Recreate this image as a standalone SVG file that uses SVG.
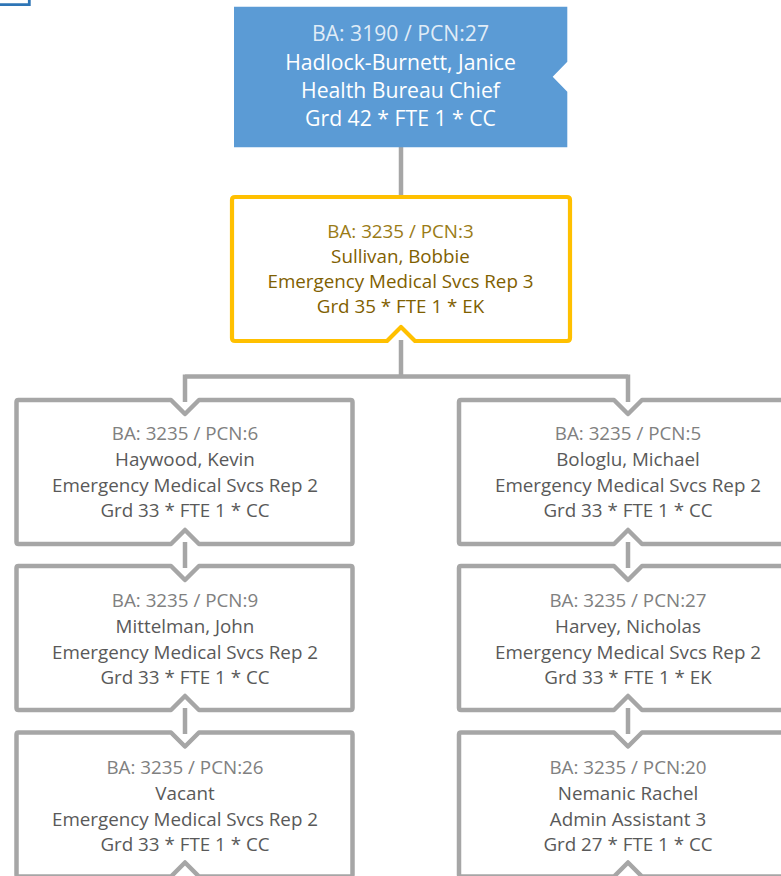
<svg xmlns="http://www.w3.org/2000/svg" width="781" height="876" viewBox="0 0 781 876">
<style>
.t{font-family:"Open Sans","Noto Sans","Liberation Sans",sans-serif;text-anchor:middle}
.g{font-size:18.8px}
.b{font-size:21.2px;fill:#fff}
.b1{fill:#fff;fill-opacity:.82}
.gy1{fill:#808080}
.gy{fill:#595959}
.y1{fill:#9A7B16}
.y{fill:#7F6000}
.box{fill:#fff;stroke:#A6A6A6;stroke-width:4.5;stroke-linejoin:round}
.con{fill:none;stroke:#A6A6A6;stroke-width:4.5}
</style>
<rect width="781" height="876" fill="#fff"/>
<path d="M0,4.7 H29.3 V0" fill="none" stroke="#2E75B6" stroke-width="2.8"/>
<g id="connectors">
<path class="con" d="M401,147 V197"/>
<path class="con" d="M401,340 V376.5 M185,376.5 H628 M185,374.5 V402 M628,374.5 V402"/>
<path class="con" d="M185,542 V568 M185,708 V734 M628,542 V568 M628,708 V734"/>
</g>
<g id="n-hadlock">
<path d="M234,6.7 H567.3 V61.7 L552.7,76.7 L567.3,91.7 V147.3 H234 Z" fill="#5B9BD5"/>
<text class="t b b1" x="400.5" y="41">BA: 3190 / PCN:27</text>
<text class="t b" x="400.5" y="70">Hadlock-Burnett, Janice</text>
<text class="t b" x="400.5" y="98">Health Bureau Chief</text>
<text class="t b" x="400.5" y="126">Grd 42 * FTE 1 * CC</text>
</g>
<g id="n-sullivan">
<path d="M235,197 H567 Q570,197 570,200 V338 Q570,341 567,341 H415 L401,327 L387,341 H235 Q232,341 232,338 V200 Q232,197 235,197 Z" fill="#fff" stroke="#FFC000" stroke-width="4.2" stroke-linejoin="round"/>
<text class="t g y1" x="400.5" y="238">BA: 3235 / PCN:3</text>
<text class="t g y" x="400.5" y="263">Sullivan, Bobbie</text>
<text class="t g y" x="400.5" y="288">Emergency Medical Svcs Rep 3</text>
<text class="t g y" x="400.5" y="313">Grd 35 * FTE 1 * EK</text>
</g>
<g id="n-haywood">
<path class="box" d="M18.5,400 H171 L185,414 L199,400 H350.5 Q352.5,400 352.5,402 V542 Q352.5,544 350.5,544 H199 L185,530 L171,544 H18.5 Q16.5,544 16.5,542 V402 Q16.5,400 18.5,400 Z"/>
<text class="t g gy1" x="185" y="440">BA: 3235 / PCN:6</text>
<text class="t g gy" x="185" y="466">Haywood, Kevin</text>
<text class="t g gy" x="185" y="492">Emergency Medical Svcs Rep 2</text>
<text class="t g gy" x="185" y="517">Grd 33 * FTE 1 * CC</text>
</g>
<g id="n-mittelman">
<path class="box" d="M18.5,566 H171 L185,580 L199,566 H350.5 Q352.5,566 352.5,568 V708 Q352.5,710 350.5,710 H199 L185,696 L171,710 H18.5 Q16.5,710 16.5,708 V568 Q16.5,566 18.5,566 Z"/>
<text class="t g gy1" x="185" y="607">BA: 3235 / PCN:9</text>
<text class="t g gy" x="185" y="633">Mittelman, John</text>
<text class="t g gy" x="185" y="659">Emergency Medical Svcs Rep 2</text>
<text class="t g gy" x="185" y="684">Grd 33 * FTE 1 * CC</text>
</g>
<g id="n-vacant">
<path class="box" d="M18.5,732.5 H171 L185,746.5 L199,732.5 H350.5 Q352.5,732.5 352.5,734.5 V874.5 Q352.5,876.5 350.5,876.5 H199 L185,862.5 L171,876.5 H18.5 Q16.5,876.5 16.5,874.5 V734.5 Q16.5,732.5 18.5,732.5 Z"/>
<text class="t g gy1" x="185" y="774">BA: 3235 / PCN:26</text>
<text class="t g gy" x="185" y="800">Vacant</text>
<text class="t g gy" x="185" y="826">Emergency Medical Svcs Rep 2</text>
<text class="t g gy" x="185" y="851">Grd 33 * FTE 1 * CC</text>
</g>
<g id="n-bologlu">
<path class="box" d="M461,400 H614 L628,414 L642,400 H793 Q795,400 795,402 V542 Q795,544 793,544 H642 L628,530 L614,544 H461 Q459,544 459,542 V402 Q459,400 461,400 Z"/>
<text class="t g gy1" x="628" y="440">BA: 3235 / PCN:5</text>
<text class="t g gy" x="628" y="466">Bologlu, Michael</text>
<text class="t g gy" x="628" y="492">Emergency Medical Svcs Rep 2</text>
<text class="t g gy" x="628" y="517">Grd 33 * FTE 1 * CC</text>
</g>
<g id="n-harvey">
<path class="box" d="M461,566 H614 L628,580 L642,566 H793 Q795,566 795,568 V708 Q795,710 793,710 H642 L628,696 L614,710 H461 Q459,710 459,708 V568 Q459,566 461,566 Z"/>
<text class="t g gy1" x="628" y="607">BA: 3235 / PCN:27</text>
<text class="t g gy" x="628" y="633">Harvey, Nicholas</text>
<text class="t g gy" x="628" y="659">Emergency Medical Svcs Rep 2</text>
<text class="t g gy" x="628" y="684">Grd 33 * FTE 1 * EK</text>
</g>
<g id="n-nemanic">
<path class="box" d="M461,732.5 H614 L628,746.5 L642,732.5 H793 Q795,732.5 795,734.5 V874.5 Q795,876.5 793,876.5 H642 L628,862.5 L614,876.5 H461 Q459,876.5 459,874.5 V734.5 Q459,732.5 461,732.5 Z"/>
<text class="t g gy1" x="628" y="774">BA: 3235 / PCN:20</text>
<text class="t g gy" x="628" y="800">Nemanic Rachel</text>
<text class="t g gy" x="628" y="826">Admin Assistant 3</text>
<text class="t g gy" x="628" y="851">Grd 27 * FTE 1 * CC</text>
</g>
</svg>
